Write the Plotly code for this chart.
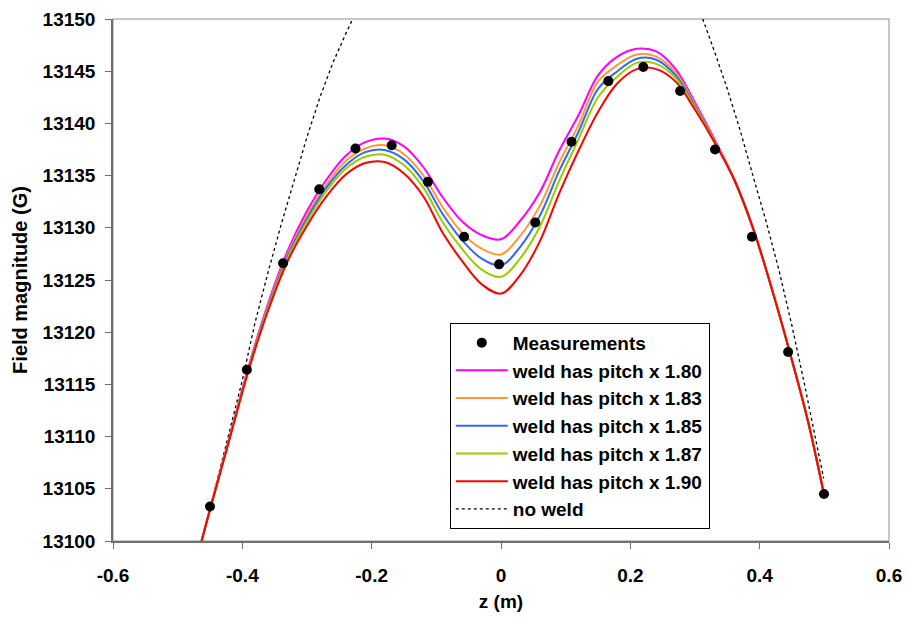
import plotly.graph_objects as go

# ---- measurements ----
meas_z = [-0.450, -0.393, -0.337, -0.281, -0.225, -0.169, -0.113, -0.057, -0.003,
          0.053, 0.109, 0.166, 0.220, 0.277, 0.331, 0.388, 0.444, 0.4995]
meas_b = [13103.3, 13116.4, 13126.6, 13133.7, 13137.6, 13137.9, 13134.4, 13129.15, 13126.5,
          13130.5, 13138.25, 13144.05, 13145.4, 13143.1, 13137.5, 13129.15, 13118.1, 13104.5]

# ---- model curves (common z grid) ----
curve_z = [-0.463, -0.45, -0.42, -0.39, -0.36, -0.33, -0.30, -0.27, -0.24, -0.21, -0.18,
           -0.15, -0.12, -0.09, -0.06, -0.03, 0.0, 0.03, 0.06, 0.09, 0.12, 0.15, 0.18,
           0.21, 0.24, 0.27, 0.30, 0.33, 0.36, 0.39, 0.42, 0.45, 0.475, 0.499]

pitch_180 = [13100.0, 13103.1, 13109.9, 13116.8, 13122.8, 13127.8, 13131.6, 13134.6, 13136.9,
             13138.2, 13138.55, 13137.8, 13135.8, 13132.9, 13130.6, 13129.3, 13128.9, 13130.7,
             13133.4, 13137.4, 13140.8, 13144.6, 13146.4, 13147.15, 13146.9, 13145.2, 13142.0,
             13138.5, 13134.75, 13129.95, 13123.9, 13117.3, 13111.4, 13104.6]
pitch_183 = [13100.0, 13103.1, 13109.85, 13116.7, 13122.6, 13127.5, 13131.2, 13134.15, 13136.4,
             13137.6, 13137.9, 13137.05, 13135.0, 13131.95, 13129.5, 13128.0, 13127.45, 13129.25,
             13132.1, 13136.25, 13139.85, 13144.0, 13145.6, 13146.6, 13146.4, 13144.85, 13141.8,
             13138.4, 13134.7, 13129.9, 13123.9, 13117.3, 13111.4, 13104.6]
pitch_185 = [13100.0, 13103.05, 13109.8, 13116.6, 13122.45, 13127.3, 13130.9, 13133.85, 13136.0,
             13137.25, 13137.45, 13136.55, 13134.45, 13131.3, 13128.8, 13127.05, 13126.4, 13128.2,
             13131.15, 13135.45, 13139.2, 13143.3, 13145.0, 13146.2, 13146.1, 13144.6, 13141.65,
             13138.35, 13134.7, 13129.9, 13123.9, 13117.3, 13111.4, 13104.6]
pitch_187 = [13100.0, 13103.0, 13109.75, 13116.5, 13122.3, 13127.1, 13130.6, 13133.5, 13135.65,
             13136.8, 13137.0, 13136.0, 13133.85, 13130.5, 13127.95, 13126.0, 13125.3, 13127.1,
             13130.1, 13134.5, 13138.5, 13142.5, 13144.5, 13145.8, 13145.7, 13144.35, 13141.5,
             13138.3, 13134.7, 13129.9, 13123.9, 13117.3, 13111.4, 13104.6]
pitch_190 = [13100.0, 13103.0, 13109.7, 13116.4, 13122.1, 13126.8, 13130.2, 13133.0, 13135.1,
             13136.2, 13136.3, 13135.2, 13133.0, 13129.5, 13126.8, 13124.6, 13123.7, 13125.5,
             13128.7, 13133.3, 13137.4, 13141.1, 13143.85, 13145.2, 13145.2, 13144.0, 13141.3,
             13138.2, 13134.7, 13129.9, 13123.9, 13117.3, 13111.4, 13104.6]

# ---- no weld (two visible branches) ----
noweld_z = [-0.463, -0.44, -0.42, -0.40, -0.38, -0.36, -0.34, -0.32, -0.30, -0.28, -0.26,
            -0.24, -0.22, -0.20, None,
            0.29, 0.31, 0.33, 0.35, 0.37, 0.39, 0.41, 0.43, 0.45, 0.47, 0.485, 0.499]
noweld_b = [13099.9, 13105.5, 13110.4, 13115.4, 13121.0, 13125.8, 13130.3, 13134.6, 13138.7,
            13142.5, 13145.8, 13148.6, 13151.2, 13153.8, None,
            13153.8, 13150.4, 13146.9, 13143.3, 13139.3, 13134.9, 13130.6, 13125.9, 13120.6,
            13114.8, 13110.2, 13106.0]

series_names = ["weld has pitch x 1.80", "weld has pitch x 1.83", "weld has pitch x 1.85",
                "weld has pitch x 1.87", "weld has pitch x 1.90"]
series_vals = [pitch_180, pitch_183, pitch_185, pitch_187, pitch_190]
series_colors = ["#FF00FF", "#FF9933", "#3366FF", "#99CC00", "#FF0000"]

x_tickvals = [-0.6, -0.4, -0.2, 0.0, 0.2, 0.4, 0.6]
x_ticktext = ["-0.6", "-0.4", "-0.2", "0", "0.2", "0.4", "0.6"]
y_tickvals = [13100, 13105, 13110, 13115, 13120, 13125, 13130, 13135, 13140, 13145, 13150]

FONT = "Liberation Sans, Arial, sans-serif"

fig = go.Figure()

fig.add_trace(go.Scatter(x=noweld_z, y=noweld_b, mode="lines", name="no weld",
                         line=dict(color="black", width=1.3, dash="dot"),
                         legendrank=7, connectgaps=False))

for i, (nm, vals, col) in enumerate(zip(series_names, series_vals, series_colors)):
    fig.add_trace(go.Scatter(x=curve_z, y=vals, mode="lines", name=nm,
                             line=dict(color=col, width=2, shape="spline", smoothing=1.0),
                             legendrank=2 + i))

fig.add_trace(go.Scatter(x=meas_z, y=meas_b, mode="markers", name="Measurements",
                         marker=dict(color="black", size=10, symbol="circle"),
                         legendrank=1))

fig.update_layout(
    width=906, height=617,
    margin=dict(l=113, r=17, t=19, b=76),
    paper_bgcolor="white", plot_bgcolor="white",
    font=dict(family=FONT, color="black", size=19),
    showlegend=True,
    legend=dict(x=0.434, y=0.418, xanchor="left", yanchor="top",
                bgcolor="white", bordercolor="black", borderwidth=1,
                font=dict(family=FONT, size=19, weight="bold", color="black"),
                tracegroupgap=0, itemwidth=52),
    shapes=[dict(type="rect", xref="paper", yref="paper", x0=0, y0=0, x1=1, y1=1,
                 line=dict(color="#b4b4b4", width=1.5), layer="below")],
)

fig.update_xaxes(range=[-0.6, 0.6], tickvals=x_tickvals, ticktext=x_ticktext,
                 automargin=False,
                 showgrid=False, zeroline=False, showline=True, linecolor="#707070",
                 linewidth=1.5, ticks="outside", ticklen=6, tickcolor="#707070",
                 tickfont=dict(family=FONT, size=19, weight="bold"),
                 ticklabelstandoff=10,
                 title=dict(text="z (m)", font=dict(family=FONT, size=19, weight="bold"),
                            standoff=10))
fig.update_yaxes(range=[13100, 13150], tickvals=y_tickvals, tickformat="d",
                 automargin=False,
                 showgrid=False, zeroline=False, showline=True, linecolor="#707070",
                 linewidth=1.5, ticks="outside", ticklen=6, tickcolor="#707070",
                 tickfont=dict(family=FONT, size=19, weight="bold"),
                 ticklabelstandoff=6,
                 title=dict(text="Field magnitude (G)",
                            font=dict(family=FONT, size=20, weight="bold"), standoff=10))

fig.write_html("out.html")
